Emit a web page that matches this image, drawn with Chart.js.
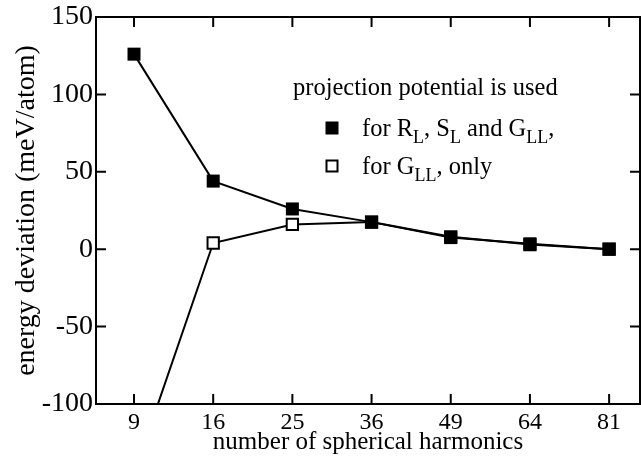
<!DOCTYPE html>
<html>
<head>
<meta charset="utf-8">
<script src="https://cdn.jsdelivr.net/npm/chart.js@4/dist/chart.umd.min.js"></script>
<style>
  html, body { margin: 0; padding: 0; background: #fff; overflow: hidden; }
</style>
</head>
<body>
<canvas id="grafico" width="641" height="458"></canvas>
<script>
// number of spherical harmonics (x categories)
const harmonics = ['9', '16', '25', '36', '49', '64', '81'];
// energy deviation (meV/atom)
const projAll = [126, 44, 26, 17.5, 7.5, 3.5, 0];       // for R_L, S_L and G_LL
const projGOnly = [-145, 4, 16, 17.5, 8, 3, 0];         // for G_LL only
const yTicks = [-100, -50, 0, 50, 100, 150];

const FONT = 'Liberation Serif, Times New Roman, serif';

const toPoints = (vals) => vals.map((v, i) => ({ x: i, y: v }));

// frame with inward ticks on all four sides
const marcoPlugin = {
  id: 'marco',
  afterDraw(chart) {
    const { ctx, chartArea: a, scales } = chart;
    const len = 10;
    ctx.save();
    ctx.strokeStyle = '#000';
    ctx.lineWidth = 2;
    ctx.strokeRect(a.left, a.top, a.right - a.left, a.bottom - a.top);
    ctx.beginPath();
    scales.x.ticks.forEach(t => {
      const px = scales.x.getPixelForValue(t.value);
      ctx.moveTo(px, a.bottom); ctx.lineTo(px, a.bottom - len);
      ctx.moveTo(px, a.top); ctx.lineTo(px, a.top + len);
    });
    scales.y.ticks.forEach(t => {
      const py = scales.y.getPixelForValue(t.value);
      ctx.moveTo(a.left, py); ctx.lineTo(a.left + len, py);
      ctx.moveTo(a.right, py); ctx.lineTo(a.right - len, py);
    });
    ctx.stroke();
    ctx.restore();
  }
};

// text with subscripts: parts = [[text, isSub], ...]
const drawRich = (ctx, parts, x, y, size) => {
  parts.forEach(([txt, sub]) => {
    if (sub) {
      ctx.font = `${Math.round(size * 0.74)}px ${FONT}`;
      ctx.fillText(txt, x, y + size * 0.3);
    } else {
      ctx.font = `${size}px ${FONT}`;
      ctx.fillText(txt, x, y);
    }
    x += ctx.measureText(txt).width;
  });
};

const leyendaPlugin = {
  id: 'leyenda',
  afterDraw(chart) {
    const { ctx, chartArea: a } = chart;
    const size = 24.5;
    ctx.save();
    ctx.fillStyle = '#000';
    ctx.textBaseline = 'alphabetic';
    ctx.font = `${size}px ${FONT}`;
    ctx.fillText('projection potential is used', a.left + 197, a.top + 78);

    // filled marker
    const mx = a.left + 236;
    ctx.fillRect(mx - 6.5, a.top + 104.5, 13, 13);
    drawRich(ctx, [['for R', false], ['L', true], [', S', false], ['L', true],
      [' and G', false], ['LL', true], [',', false]], a.left + 266, a.top + 119, size);

    // open marker
    ctx.lineWidth = 2;
    ctx.strokeStyle = '#000';
    ctx.strokeRect(mx - 5.5, a.top + 143.5, 11, 11);
    drawRich(ctx, [['for G', false], ['LL', true], [', only', false]],
      a.left + 266, a.top + 157, size);
    ctx.restore();
  }
};

const ctx = document.getElementById('grafico').getContext('2d');
new Chart(ctx, {
  type: 'line',
  data: {
    datasets: [
      {
        label: 'for R_L, S_L and G_LL',
        data: toPoints(projAll),
        borderColor: '#000',
        borderWidth: 2,
        backgroundColor: '#000',
        pointStyle: 'rect',
        pointRadius: 9.2,
        pointBorderWidth: 0,
        pointBackgroundColor: '#000',
        tension: 0
      },
      {
        label: 'for G_LL only',
        data: toPoints(projGOnly),
        borderColor: '#000',
        borderWidth: 2,
        pointStyle: 'rect',
        pointRadius: 8,
        pointBorderWidth: 2,
        pointBorderColor: '#000',
        pointBackgroundColor: '#fff',
        tension: 0
      }
    ]
  },
  options: {
    responsive: false,
    animation: false,
    events: [],
    layout: { autoPadding: false, padding: { top: 17, right: 1, left: 0, bottom: 0 } },
    plugins: {
      legend: { display: false },
      tooltip: { enabled: false }
    },
    scales: {
      x: {
        type: 'linear',
        min: -0.48,
        max: 6.39,
        afterBuildTicks: (scale) => {
          scale.ticks = harmonics.map((_, i) => ({ value: i }));
        },
        afterFit: (scale) => {
          scale.height = 54;
          scale.paddingLeft = 0;
          scale.paddingRight = 0;
        },
        grid: { display: false, drawTicks: false },
        border: { display: false },
        ticks: {
          color: '#000',
          padding: 4,
          font: { family: FONT, size: 24 },
          maxRotation: 0,
          callback: (v) => harmonics[v]
        },
        title: {
          display: true,
          text: 'number of spherical harmonics',
          color: '#000',
          font: { family: FONT, size: 25 },
          padding: { top: 0, bottom: 1 }
        }
      },
      y: {
        min: -100,
        max: 150,
        afterBuildTicks: (scale) => {
          scale.ticks = yTicks.map(v => ({ value: v }));
        },
        afterFit: (scale) => {
          scale.width = 96;
          scale.paddingTop = 0;
          scale.paddingBottom = 0;
        },
        grid: { display: false, drawTicks: false },
        border: { display: false },
        ticks: {
          color: '#000',
          padding: 3,
          font: { family: FONT, size: 28 }
        },
        title: {
          display: true,
          text: 'energy deviation (meV/atom)',
          color: '#000',
          font: { family: FONT, size: 28 },
          padding: { top: 10, bottom: 0 }
        }
      }
    }
  },
  plugins: [marcoPlugin, leyendaPlugin]
});
</script>
</body>
</html>
